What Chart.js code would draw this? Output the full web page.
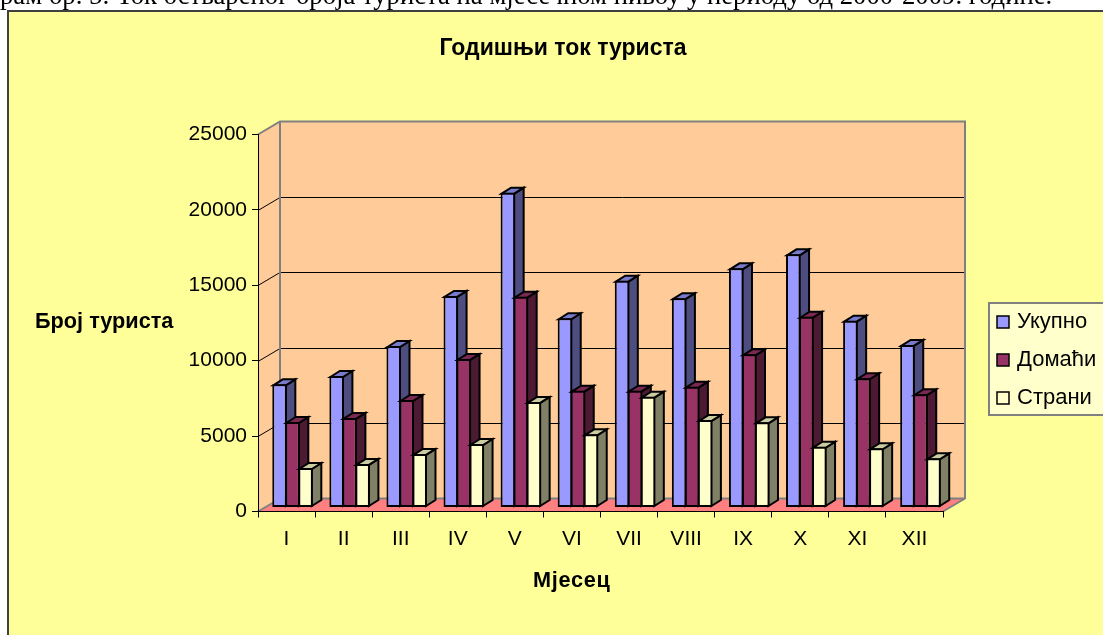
<!DOCTYPE html>
<html>
<head>
<meta charset="utf-8">
<script src="https://cdn.jsdelivr.net/npm/chart.js@4"></script>
<style>
body { margin: 0; background: #fff; overflow: hidden; }
#caption { position: absolute; left: 0; top: -20px; white-space: nowrap; font: 26.7px "Liberation Serif", serif; color: #000; z-index: 2; }
canvas { position: absolute; left: 0; top: 0; }
</style>
</head>
<body>
<div id="caption">рам бр. 5: Ток оствареног броја туриста на мјесечном нивоу у периоду од 2000-2009. године.</div>
<canvas id="chart" width="1103" height="635"></canvas>
<script>
const months = ["I", "II", "III", "IV", "V", "VI", "VII", "VIII", "IX", "X", "XI", "XII"];
const ukupno = [8170, 8720, 10710, 14030, 20880, 12550, 15040, 13880, 15860, 16790, 12390, 10780];
const domaci = [5670, 5940, 7130, 9850, 13980, 7750, 7750, 8010, 10160, 12650, 8570, 7510];
const strani = [2620, 2890, 3550, 4210, 7000, 4850, 7350, 5800, 5650, 4030, 3930, 3260];
const yTicks = [0, 5000, 10000, 15000, 20000, 25000];

const fontName = '"Liberation Sans", Arial, sans-serif';
const sideColors = ["#4d4d80", "#4d1a33", "#808066"];
const capColors = ["#7a7acc", "#7a2952", "#cccca3"];

function poly(ctx, pts, fill, stroke, lw) {
    ctx.beginPath();
    ctx.moveTo(pts[0][0], pts[0][1]);
    for (let i = 1; i < pts.length; i++) ctx.lineTo(pts[i][0], pts[i][1]);
    ctx.closePath();
    if (fill) { ctx.fillStyle = fill; ctx.fill(); }
    if (stroke) { ctx.strokeStyle = stroke; ctx.lineWidth = lw; ctx.stroke(); }
}

// the 3D look: walls, floor, bar depth, plus legend and axis titles
const box3d = {
    id: 'box3d',
    beforeDraw(chart) {
        const ctx = chart.ctx, a = chart.chartArea, y = chart.scales.y;
        const wx = 22, wy = 13;
        ctx.save();
        ctx.fillStyle = '#ffff99';
        ctx.fillRect(8, 11, 1095, 624);
        ctx.fillStyle = '#404040';
        ctx.fillRect(7, 10, 1096, 2);
        ctx.fillRect(7, 10, 2, 625);

        poly(ctx, [[a.left, a.top], [a.left + wx, a.top - wy], [a.left + wx, a.bottom - wy], [a.left, a.bottom]], '#ffcc99');
        poly(ctx, [[a.left + wx, a.top - wy], [a.right + wx, a.top - wy], [a.right + wx, a.bottom - wy], [a.left + wx, a.bottom - wy]], '#ffcc99');
        poly(ctx, [[a.left, a.bottom], [a.left + wx, a.bottom - wy], [a.right + wx, a.bottom - wy], [a.right, a.bottom]], '#ff8080');

        ctx.strokeStyle = '#000';
        ctx.lineWidth = 1;
        yTicks.slice(1, -1).forEach(v => {
            const py = Math.round(y.getPixelForValue(v)) + 0.5;
            ctx.beginPath();
            ctx.moveTo(a.left, py);
            ctx.lineTo(a.left + wx, py - wy);
            ctx.lineTo(a.right + wx, py - wy);
            ctx.stroke();
        });

        ctx.strokeStyle = '#808080';
        ctx.lineWidth = 2;
        ctx.beginPath();
        ctx.moveTo(a.left, a.top);
        ctx.lineTo(a.left + wx, a.top - wy);
        ctx.lineTo(a.right + wx, a.top - wy);
        ctx.lineTo(a.right + wx, a.bottom - wy);
        ctx.lineTo(a.right, a.bottom);
        ctx.moveTo(a.left + wx, a.top - wy);
        ctx.lineTo(a.left + wx, a.bottom - wy);
        ctx.lineTo(a.right + wx, a.bottom - wy);
        ctx.moveTo(a.left + wx, a.bottom - wy);
        ctx.lineTo(a.left, a.bottom);
        ctx.stroke();
        ctx.restore();
    },
    // draw series left to right so each bar's front covers the side of the one before
    beforeDatasetDraw() {
        return false;
    },
    afterDatasetsDraw(chart) {
        const ctx = chart.ctx, dx = 9.5, dy = 6;
        chart.data.datasets.forEach((ds, i) => {
            const meta = chart.getDatasetMeta(i);
            ctx.save();
            ctx.translate(6, -4);
            ctx.lineJoin = 'miter';
            meta.data.forEach(el => {
                const l = el.x - el.width / 2 + 1, r = el.x + el.width / 2 - 1, t = el.y + 1, b = el.base - 1;
                poly(ctx, [[r, t], [r + dx, t - dy], [r + dx, b - dy], [r, b]], sideColors[i], '#000', 2);
                poly(ctx, [[l, t], [l + dx, t - dy], [r + dx, t - dy], [r, t]], capColors[i], '#000', 2);
            });
            meta.controller.draw();
            ctx.restore();
        });
    },
    afterDraw(chart) {
        const ctx = chart.ctx;
        ctx.save();
        ctx.fillStyle = '#000';
        ctx.textBaseline = 'middle';
        ctx.textAlign = 'left';
        ctx.font = 'bold 21.7px ' + fontName;
        ctx.fillText('Број туриста', 35, 322);
        ctx.letterSpacing = '0.7px';
        ctx.fillText('Мјесец', 533, 581);
        ctx.letterSpacing = '0px';

        poly(ctx, [[989, 303], [1104, 303], [1104, 415], [989, 415]], '#ffffcc', '#808080', 2);
        ctx.font = '22px ' + fontName;
        chart.data.datasets.forEach((ds, i) => {
            const ly = 322 + i * 38;
            ctx.fillStyle = ds.backgroundColor;
            ctx.fillRect(997, ly - 6, 12, 12);
            ctx.strokeStyle = '#000';
            ctx.lineWidth = 1.5;
            ctx.strokeRect(997, ly - 6, 12, 12);
            ctx.fillStyle = '#000';
            ctx.fillText(ds.label, 1017, ly);
        });
        ctx.restore();
    }
};

const barOpts = { borderColor: '#000', borderWidth: 2, borderSkipped: false, clip: false };

new Chart(document.getElementById("chart"), {
    type: 'bar',
    data: {
        labels: months,
        datasets: [
            { label: "Укупно", data: ukupno, backgroundColor: "#9999ff", ...barOpts },
            { label: "Домаћи", data: domaci, backgroundColor: "#993366", ...barOpts },
            { label: "Страни", data: strani, backgroundColor: "#ffffcc", ...barOpts }
        ]
    },
    plugins: [box3d],
    options: {
        responsive: false,
        animation: false,
        barPercentage: 1.12,
        categoryPercentage: 0.683,
        layout: { padding: { left: 183, right: 160, top: 35, bottom: 0 } },
        plugins: {
            legend: { display: false },
            tooltip: { enabled: false },
            title: {
                display: true,
                text: 'Годишњи ток туриста',
                color: '#000',
                font: { family: fontName, size: 23, weight: 'bold' },
                padding: { top: 0, bottom: 71.9 }
            }
        },
        scales: {
            x: {
                afterFit: s => { s.height = 123.5 },
                grid: { drawOnChartArea: false, color: '#000', tickLength: 6 },
                border: { color: '#000' },
                ticks: { color: '#000', font: { family: fontName, size: 21 }, padding: 9, maxRotation: 0, autoSkip: false }
            },
            y: {
                min: 0,
                max: 25000,
                afterFit: s => { s.width = 75 },
                afterBuildTicks: s => { s.ticks = yTicks.map(v => ({ value: v })) },
                grid: { drawOnChartArea: false, color: '#000', tickLength: 6 },
                border: { color: '#000' },
                ticks: { color: '#000', font: { family: fontName, size: 21 }, padding: 5, callback: v => String(v) }
            }
        }
    }
});
</script>
</body>
</html>
